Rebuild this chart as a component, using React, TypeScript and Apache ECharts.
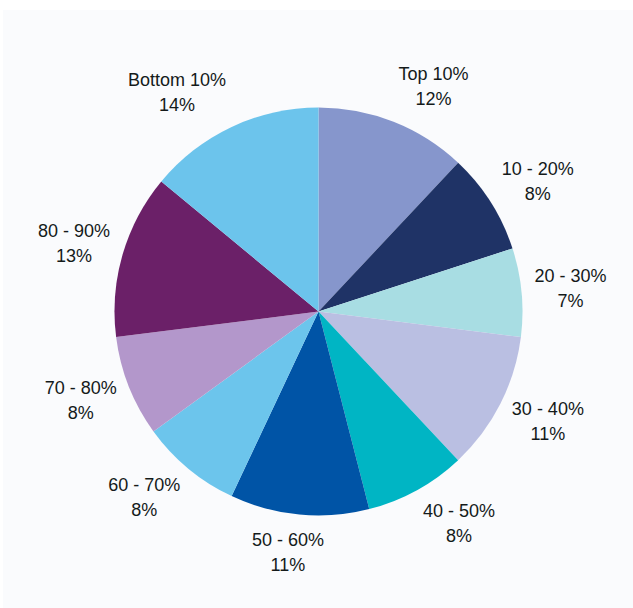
import React, { useEffect, useRef } from "react";
import * as echarts from "echarts";

const categories = [
  "Top 10%",
  "10 - 20%",
  "20 - 30%",
  "30 - 40%",
  "40 - 50%",
  "50 - 60%",
  "60 - 70%",
  "70 - 80%",
  "80 - 90%",
  "Bottom 10%",
];
const shares = [12, 8, 7, 11, 8, 11, 8, 8, 13, 14];
const colors = [
  "#8696CC",
  "#1F3366",
  "#A8DDE3",
  "#BABFE2",
  "#00B5C4",
  "#0054A6",
  "#6CC5EC",
  "#B397CB",
  "#6B2068",
  "#6CC4EC",
];

const CX = 318.5;
const CY = 311.5;
const R = 204;
const LABEL_DIST = 217;

export default function App() {
  const ref = useRef<HTMLDivElement>(null);
  useEffect(() => {
    if (!ref.current) return;
    const chart = echarts.init(ref.current, null, { renderer: "svg" });
    const total = shares.reduce((a, b) => a + b, 0);
    const gx = (v: number) => Math.max(-1, Math.min(1, v * 3));
    const gy = (v: number) => Math.max(-1, Math.min(1, v));
    chart.setOption({
      animation: false,
      backgroundColor: "#ffffff",
      graphic: [
        {
          type: "rect",
          left: 3,
          top: 10,
          shape: { width: 630, height: 598 },
          style: { fill: "#FAFBFD" },
          silent: true,
          z: -10,
        },
      ],
      series: [
        {
          type: "pie",
          center: [CX, CY],
          radius: R,
          startAngle: 90,
          clockwise: true,
          avoidLabelOverlap: false,
          data: categories.map((name, i) => ({
            name,
            value: shares[i],
            itemStyle: { color: colors[i] },
          })),
          itemStyle: { borderWidth: 0 },
          label: {
            show: true,
            position: "inside",
            formatter: (p: any) => `${p.name}\n${Math.round(p.percent)}%`,
            fontFamily: "Liberation Sans, Arial, sans-serif",
            fontSize: 18,
            lineHeight: 25,
            color: "#141a1a",
            align: "center",
            overflow: "none",
          },
          labelLine: { show: false },
          emphasis: { disabled: true },
          labelLayout: (params: any) => {
            const i = params.dataIndex;
            let cum = 0;
            for (let k = 0; k < i; k++) cum += shares[k];
            const mid = ((cum + shares[i] / 2) / total) * Math.PI * 2;
            const ux = Math.sin(mid);
            const uy = -Math.cos(mid);
            const w = params.labelRect.width / 2;
            const h = params.labelRect.height / 2;
            return {
              x: CX + LABEL_DIST * ux + w * gx(ux),
              y: CY + LABEL_DIST * uy + h * gy(uy),
              align: "center",
              verticalAlign: "middle",
            };
          },
        },
      ],
    });
    return () => chart.dispose();
  }, []);
  return (
    <div
      ref={ref}
      style={{ position: "absolute", left: 0, top: 0, width: 633, height: 608 }}
    />
  );
}
